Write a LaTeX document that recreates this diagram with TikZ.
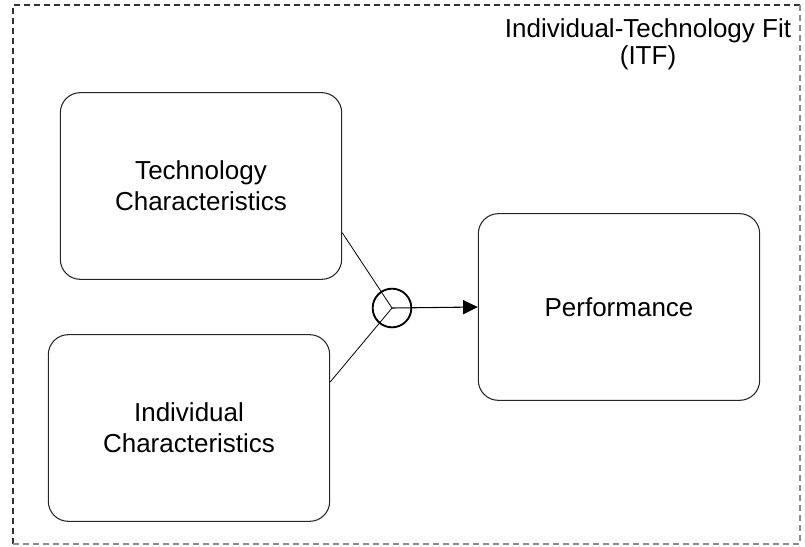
\documentclass[tikz,border=0pt]{standalone}
\usepackage{fontspec}
\setmainfont{Liberation Sans}
\usepackage{tikz}
\usetikzlibrary{arrows.meta, positioning, shapes.geometric}

\begin{document}
\begin{tikzpicture}[
        x=0.75pt, y=-0.75pt,
        % STYLES
        construct/.style={rectangle, rounded corners=15pt, draw=black!85, line width=0.8pt, minimum width=211pt, minimum height=140pt, align=center, font=\fontsize{19.5}{23}\selectfont},
        junction/.style={circle, draw=black, line width=1.4pt, minimum size=29pt, inner sep=0pt},
        frame/.style={dashed, dash pattern=on 4.5pt off 3pt, line width=0.8pt},
        % ARROWS
        link/.style={black, line width=0.6pt},
        effect/.style={-{Triangle[length=11pt, width=10.5pt]}, black, line width=0.8pt}
    ]
    \useasboundingbox (0,0) rectangle (805,546);

    % ===================================
    % 1. Fit boundary
    % ===================================
    \draw[frame, black!80] (13,544) -- (13,5) -- (800,5);
    \draw[frame, black!45] (800,5) -- (800,544) -- (13,544);
    \node[align=center, font=\fontsize{19.5}{20}\selectfont] (itf) at (648,44) {Individual-Technology Fit\\(ITF)};

    % ===================================
    % 2. Constructs
    % ===================================
    \node[construct] (tech) at (201,186) {Technology\\Characteristics};
    \node[construct] (indiv) at (189,428) {Individual\\Characteristics};
    \node[construct] (perf) at (619,307) {Performance};

    % --- Interaction ---
    \node[junction] (fit) at (392,308) {};

    \draw[link] ([yshift=-35pt]tech.east) -- (fit.center);
    \draw[link] ([yshift=34.5pt]indiv.east) -- (fit.center);
    \draw[effect] (fit.center) -- (perf.west);

\end{tikzpicture}
\end{document}
